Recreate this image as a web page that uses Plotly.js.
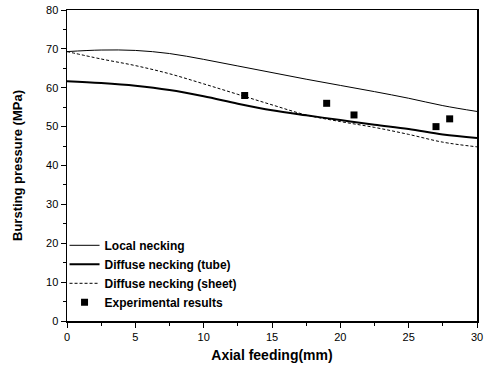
<!DOCTYPE html>
<html><head><meta charset="utf-8">
<script src="https://cdn.plot.ly/plotly-3.0.1.min.js"></script>
<style>html,body{margin:0;padding:0;background:#fff}#chart{width:490px;height:368px}</style>
</head><body><div id="chart"></div>
<script>
const xCurve = [0, 2.5, 5, 7.5, 10, 12.5, 15, 17.5, 20, 22.5, 25, 27.5, 30];
const localNecking = [69.3, 69.7, 69.6, 68.8, 67.3, 65.6, 63.9, 62.2, 60.6, 59.0, 57.3, 55.4, 53.9];
const diffuseTube = [61.7, 61.2, 60.5, 59.4, 57.8, 55.9, 54.2, 52.9, 51.7, 50.5, 49.4, 48.0, 47.1];
const diffuseSheet = [69.3, 67.4, 65.7, 63.6, 61.0, 58.3, 55.6, 53.0, 51.3, 49.8, 48.0, 46.0, 44.8];
const expX = [13, 19, 21, 27, 28];
const expY = [58, 56, 53, 50, 52];

const traces = [
  {x: xCurve, y: localNecking, mode: 'lines', name: 'Local necking', line: {color: '#000', width: 1, shape: 'spline'}},
  {x: xCurve, y: diffuseTube, mode: 'lines', name: 'Diffuse necking (tube)', line: {color: '#000', width: 2, shape: 'spline'}},
  {x: xCurve, y: diffuseSheet, mode: 'lines', name: 'Diffuse necking (sheet)', line: {color: '#000', width: 1, dash: '3px,2px', shape: 'spline'}},
  {x: expX, y: expY, mode: 'markers', name: 'Experimental results', marker: {symbol: 'square', color: '#000', size: 7}}
];

const layout = {
  width: 490, height: 368,
  margin: {l: 67, r: 13, t: 10, b: 47},
  paper_bgcolor: '#fff', plot_bgcolor: '#fff',
  font: {family: 'Liberation Sans, Arial, sans-serif', color: '#000', size: 11},
  showlegend: true,
  legend: {x: -0.006, y: 0.29, xanchor: 'left', yanchor: 'top', bgcolor: 'rgba(0,0,0,0)',
    font: {size: 12, family: 'Liberation Sans, Arial, sans-serif', weight: 'bold'}, tracegroupgap: 0, itemwidth: 30},
  xaxis: {
    range: [0, 30], dtick: 5, ticks: 'outside', ticklen: 5, tickwidth: 1, tickcolor: '#000',
    showline: true, linecolor: '#000', linewidth: 1.5, mirror: true, showgrid: false, zeroline: false,
    minor: {dtick: 2.5, ticks: 'outside', ticklen: 3, tickcolor: '#000', showgrid: false},
    title: {text: 'Axial feeding(mm)', font: {size: 14, weight: 'bold'}, standoff: 8}
  },
  yaxis: {
    range: [0, 80], dtick: 10, ticks: 'outside', ticklen: 5, tickwidth: 1, tickcolor: '#000',
    showline: true, linecolor: '#000', linewidth: 1.5, mirror: true, showgrid: false, zeroline: false,
    minor: {dtick: 5, ticks: 'outside', ticklen: 3, tickcolor: '#000', showgrid: false},
    title: {text: 'Bursting pressure (MPa)', font: {size: 13, weight: 'bold'}, standoff: 20}
  }
};
Plotly.newPlot('chart', traces, layout, {displayModeBar: false, staticPlot: true});
</script></body></html>
